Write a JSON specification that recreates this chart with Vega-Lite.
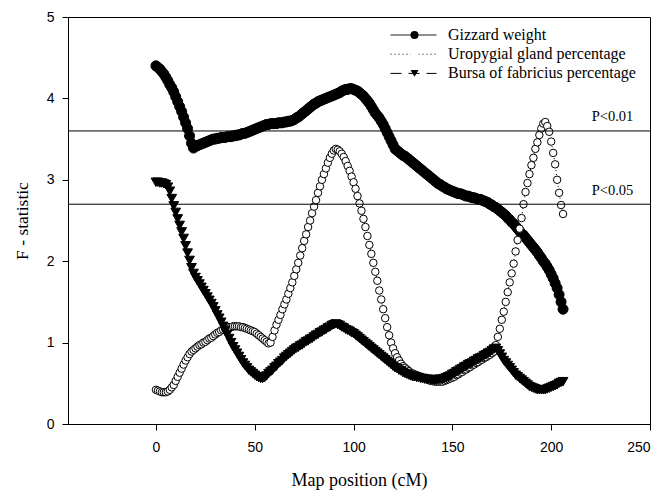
{
"$schema":"https://vega.github.io/schema/vega-lite/v6.json",
"width":582,"height":407,
"autosize":{"type":"none"},
"padding":{"left":68,"top":17,"right":12,"bottom":69},
"background":"white",
"config":{
 "view":{"stroke":"black","strokeWidth":1},
 "axis":{"grid":false,"domainColor":"black","tickColor":"black","tickSize":6,"labelFont":"Liberation Sans","labelFontSize":14,"labelColor":"black","titleFont":"Liberation Serif","titleFontWeight":"normal","titleColor":"black"}
},
"data":{"values":[
{"x":0,"g":4.40,"u":0.42,"b":2.97},{"x":1,"g":4.38,"u":0.41,"b":2.97},{"x":2,"g":4.36,"u":0.40,"b":2.96},{"x":3,"g":4.33,"u":0.39,"b":2.96},{"x":4,"g":4.30,"u":0.39,"b":2.95},
{"x":5,"g":4.26,"u":0.39,"b":2.94},{"x":6,"g":4.22,"u":0.40,"b":2.91},{"x":7,"g":4.17,"u":0.42,"b":2.86},{"x":8,"g":4.13,"u":0.45,"b":2.77},{"x":9,"g":4.08,"u":0.48,"b":2.68},
{"x":10,"g":4.02,"u":0.53,"b":2.60},{"x":11,"g":3.96,"u":0.58,"b":2.52},{"x":12,"g":3.90,"u":0.63,"b":2.44},{"x":13,"g":3.84,"u":0.68,"b":2.36},{"x":14,"g":3.77,"u":0.73,"b":2.28},
{"x":15,"g":3.70,"u":0.78,"b":2.19},{"x":16,"g":3.63,"u":0.82,"b":2.10},{"x":17,"g":3.54,"u":0.86,"b":2.01},{"x":18,"g":3.45,"u":0.89,"b":1.92},{"x":19,"g":3.39,"u":0.91,"b":1.85},
{"x":20,"g":3.41,"u":0.93,"b":1.80},{"x":21,"g":3.42,"u":0.95,"b":1.76},{"x":22,"g":3.43,"u":0.97,"b":1.72},{"x":23,"g":3.44,"u":0.98,"b":1.68},{"x":24,"g":3.45,"u":1.00,"b":1.64},
{"x":25,"g":3.46,"u":1.01,"b":1.60},{"x":26,"g":3.47,"u":1.03,"b":1.56},{"x":27,"g":3.48,"u":1.05,"b":1.52},{"x":28,"g":3.49,"u":1.06,"b":1.48},{"x":29,"g":3.50,"u":1.08,"b":1.44},
{"x":30,"g":3.50,"u":1.10,"b":1.39},{"x":31,"g":3.51,"u":1.12,"b":1.34},{"x":32,"g":3.51,"u":1.13,"b":1.30},{"x":33,"g":3.52,"u":1.15,"b":1.25},{"x":34,"g":3.52,"u":1.16,"b":1.20},
{"x":35,"g":3.52,"u":1.17,"b":1.15},{"x":36,"g":3.53,"u":1.18,"b":1.10},{"x":37,"g":3.53,"u":1.19,"b":1.05},{"x":38,"g":3.53,"u":1.19,"b":1.00},{"x":39,"g":3.54,"u":1.20,"b":0.95},
{"x":40,"g":3.54,"u":1.20,"b":0.91},{"x":41,"g":3.55,"u":1.20,"b":0.87},{"x":42,"g":3.55,"u":1.20,"b":0.83},{"x":43,"g":3.56,"u":1.19,"b":0.79},{"x":44,"g":3.57,"u":1.19,"b":0.75},
{"x":45,"g":3.57,"u":1.18,"b":0.72},{"x":46,"g":3.58,"u":1.17,"b":0.69},{"x":47,"g":3.59,"u":1.16,"b":0.66},{"x":48,"g":3.60,"u":1.15,"b":0.64},{"x":49,"g":3.61,"u":1.14,"b":0.62},
{"x":50,"g":3.62,"u":1.13,"b":0.60},{"x":51,"g":3.63,"u":1.11,"b":0.58},{"x":52,"g":3.64,"u":1.09,"b":0.57},{"x":53,"g":3.65,"u":1.07,"b":0.56},{"x":54,"g":3.66,"u":1.05,"b":0.56},
{"x":55,"g":3.67,"u":1.03,"b":0.57},{"x":56,"g":3.68,"u":1.01,"b":0.59},{"x":57,"g":3.68,"u":0.99,"b":0.62},{"x":58,"g":3.69,"u":1.00,"b":0.64},{"x":59,"g":3.69,"u":1.07,"b":0.66},
{"x":60,"g":3.69,"u":1.15,"b":0.69},{"x":61,"g":3.69,"u":1.22,"b":0.71},{"x":62,"g":3.70,"u":1.28,"b":0.74},{"x":63,"g":3.70,"u":1.34,"b":0.76},{"x":64,"g":3.70,"u":1.41,"b":0.78},
{"x":65,"g":3.71,"u":1.47,"b":0.81},{"x":66,"g":3.71,"u":1.53,"b":0.83},{"x":67,"g":3.72,"u":1.60,"b":0.85},{"x":68,"g":3.72,"u":1.67,"b":0.87},{"x":69,"g":3.73,"u":1.74,"b":0.89},
{"x":70,"g":3.74,"u":1.82,"b":0.91},{"x":71,"g":3.76,"u":1.90,"b":0.93},{"x":72,"g":3.77,"u":1.98,"b":0.94},{"x":73,"g":3.79,"u":2.07,"b":0.96},{"x":74,"g":3.81,"u":2.16,"b":0.97},
{"x":75,"g":3.83,"u":2.25,"b":0.99},{"x":76,"g":3.85,"u":2.33,"b":1.01},{"x":77,"g":3.87,"u":2.42,"b":1.02},{"x":78,"g":3.89,"u":2.50,"b":1.04},{"x":79,"g":3.91,"u":2.59,"b":1.05},
{"x":80,"g":3.93,"u":2.67,"b":1.07},{"x":81,"g":3.94,"u":2.75,"b":1.09},{"x":82,"g":3.96,"u":2.84,"b":1.10},{"x":83,"g":3.97,"u":2.92,"b":1.12},{"x":84,"g":3.98,"u":3.00,"b":1.13},
{"x":85,"g":3.99,"u":3.07,"b":1.15},{"x":86,"g":4.00,"u":3.14,"b":1.16},{"x":87,"g":4.01,"u":3.21,"b":1.18},{"x":88,"g":4.02,"u":3.27,"b":1.19},{"x":89,"g":4.03,"u":3.32,"b":1.21},
{"x":90,"g":4.04,"u":3.36,"b":1.22},{"x":91,"g":4.05,"u":3.38,"b":1.23},{"x":92,"g":4.06,"u":3.37,"b":1.22},{"x":93,"g":4.07,"u":3.35,"b":1.21},{"x":94,"g":4.09,"u":3.32,"b":1.19},
{"x":95,"g":4.10,"u":3.28,"b":1.18},{"x":96,"g":4.11,"u":3.23,"b":1.16},{"x":97,"g":4.11,"u":3.17,"b":1.15},{"x":98,"g":4.12,"u":3.11,"b":1.14},{"x":99,"g":4.12,"u":3.04,"b":1.12},
{"x":100,"g":4.11,"u":2.97,"b":1.11},{"x":101,"g":4.10,"u":2.89,"b":1.09},{"x":102,"g":4.09,"u":2.80,"b":1.07},{"x":103,"g":4.07,"u":2.71,"b":1.05},{"x":104,"g":4.05,"u":2.62,"b":1.03},
{"x":105,"g":4.03,"u":2.52,"b":1.01},{"x":106,"g":4.00,"u":2.42,"b":0.99},{"x":107,"g":3.97,"u":2.31,"b":0.97},{"x":108,"g":3.94,"u":2.20,"b":0.95},{"x":109,"g":3.90,"u":2.09,"b":0.93},
{"x":110,"g":3.86,"u":1.98,"b":0.91},{"x":111,"g":3.82,"u":1.87,"b":0.89},{"x":112,"g":3.79,"u":1.76,"b":0.87},{"x":113,"g":3.76,"u":1.64,"b":0.85},{"x":114,"g":3.72,"u":1.53,"b":0.83},
{"x":115,"g":3.68,"u":1.41,"b":0.81},{"x":116,"g":3.63,"u":1.30,"b":0.79},{"x":117,"g":3.58,"u":1.19,"b":0.77},{"x":118,"g":3.53,"u":1.09,"b":0.75},{"x":119,"g":3.48,"u":1.00,"b":0.73},
{"x":120,"g":3.43,"u":0.93,"b":0.71},{"x":121,"g":3.38,"u":0.87,"b":0.69},{"x":122,"g":3.36,"u":0.82,"b":0.68},{"x":123,"g":3.34,"u":0.78,"b":0.66},{"x":124,"g":3.32,"u":0.74,"b":0.65},
{"x":125,"g":3.30,"u":0.71,"b":0.63},{"x":126,"g":3.29,"u":0.69,"b":0.62},{"x":127,"g":3.27,"u":0.67,"b":0.61},{"x":128,"g":3.25,"u":0.65,"b":0.60},{"x":129,"g":3.23,"u":0.63,"b":0.59},
{"x":130,"g":3.21,"u":0.62,"b":0.58},{"x":131,"g":3.19,"u":0.61,"b":0.58},{"x":132,"g":3.17,"u":0.60,"b":0.57},{"x":133,"g":3.15,"u":0.59,"b":0.57},{"x":134,"g":3.13,"u":0.58,"b":0.56},
{"x":135,"g":3.11,"u":0.57,"b":0.56},{"x":136,"g":3.09,"u":0.56,"b":0.55},{"x":137,"g":3.07,"u":0.55,"b":0.55},{"x":138,"g":3.05,"u":0.54,"b":0.55},{"x":139,"g":3.03,"u":0.53,"b":0.54},
{"x":140,"g":3.01,"u":0.53,"b":0.54},{"x":141,"g":2.99,"u":0.52,"b":0.54},{"x":142,"g":2.97,"u":0.52,"b":0.54},{"x":143,"g":2.95,"u":0.52,"b":0.55},{"x":144,"g":2.94,"u":0.52,"b":0.55},
{"x":145,"g":2.92,"u":0.52,"b":0.55},{"x":146,"g":2.91,"u":0.53,"b":0.56},{"x":147,"g":2.89,"u":0.54,"b":0.57},{"x":148,"g":2.88,"u":0.55,"b":0.58},{"x":149,"g":2.87,"u":0.56,"b":0.59},
{"x":150,"g":2.86,"u":0.57,"b":0.61},{"x":151,"g":2.85,"u":0.58,"b":0.62},{"x":152,"g":2.84,"u":0.60,"b":0.64},{"x":153,"g":2.83,"u":0.61,"b":0.65},{"x":154,"g":2.83,"u":0.63,"b":0.67},
{"x":155,"g":2.82,"u":0.64,"b":0.68},{"x":156,"g":2.81,"u":0.66,"b":0.70},{"x":157,"g":2.80,"u":0.67,"b":0.71},{"x":158,"g":2.80,"u":0.69,"b":0.73},{"x":159,"g":2.79,"u":0.70,"b":0.74},
{"x":160,"g":2.78,"u":0.72,"b":0.75},{"x":161,"g":2.78,"u":0.73,"b":0.77},{"x":162,"g":2.77,"u":0.75,"b":0.78},{"x":163,"g":2.76,"u":0.76,"b":0.80},{"x":164,"g":2.76,"u":0.78,"b":0.81},
{"x":165,"g":2.75,"u":0.79,"b":0.82},{"x":166,"g":2.74,"u":0.81,"b":0.84},{"x":167,"g":2.73,"u":0.82,"b":0.85},{"x":168,"g":2.72,"u":0.84,"b":0.87},{"x":169,"g":2.70,"u":0.85,"b":0.88},
{"x":170,"g":2.69,"u":0.87,"b":0.90},{"x":171,"g":2.67,"u":0.89,"b":0.92},{"x":172,"g":2.66,"u":0.97,"b":0.93},{"x":173,"g":2.64,"u":1.07,"b":0.90},{"x":174,"g":2.62,"u":1.17,"b":0.86},
{"x":175,"g":2.60,"u":1.28,"b":0.82},{"x":176,"g":2.58,"u":1.38,"b":0.78},{"x":177,"g":2.56,"u":1.50,"b":0.75},{"x":178,"g":2.53,"u":1.62,"b":0.72},{"x":179,"g":2.51,"u":1.74,"b":0.69},
{"x":180,"g":2.48,"u":1.85,"b":0.66},{"x":181,"g":2.46,"u":1.97,"b":0.63},{"x":182,"g":2.43,"u":2.12,"b":0.60},{"x":183,"g":2.40,"u":2.26,"b":0.58},{"x":184,"g":2.37,"u":2.40,"b":0.56},
{"x":185,"g":2.34,"u":2.53,"b":0.54},{"x":186,"g":2.32,"u":2.70,"b":0.52},{"x":187,"g":2.29,"u":2.85,"b":0.50},{"x":188,"g":2.26,"u":2.96,"b":0.48},{"x":189,"g":2.23,"u":3.07,"b":0.46},
{"x":190,"g":2.20,"u":3.18,"b":0.45},{"x":191,"g":2.17,"u":3.27,"b":0.44},{"x":192,"g":2.14,"u":3.38,"b":0.43},{"x":193,"g":2.11,"u":3.46,"b":0.42},{"x":194,"g":2.07,"u":3.55,"b":0.42},
{"x":195,"g":2.04,"u":3.63,"b":0.42},{"x":196,"g":2.00,"u":3.69,"b":0.42},{"x":197,"g":1.97,"u":3.71,"b":0.42},{"x":198,"g":1.93,"u":3.66,"b":0.43},{"x":199,"g":1.89,"u":3.59,"b":0.44},
{"x":200,"g":1.84,"u":3.47,"b":0.45},{"x":201,"g":1.79,"u":3.33,"b":0.46},{"x":202,"g":1.73,"u":3.19,"b":0.47},{"x":203,"g":1.67,"u":3.00,"b":0.48},{"x":204,"g":1.59,"u":2.84,"b":0.50},
{"x":205,"g":1.50,"u":2.69,"b":0.51},{"x":206,"g":1.41,"u":2.58,"b":0.52}
]},
"layer":[
 {"transform":[{"fold":["g"],"as":["ln","F"]}],
  "mark":{"type":"line","color":"black","strokeWidth":1},
  "encoding":{"x":{"field":"x","type":"quantitative","scale":{"domain":[-44.5,250],"nice":false,"zero":false},"axis":{"values":[0,50,100,150,200,250],"format":"d","title":"Map position (cM)","titleFontSize":18,"labelPadding":10,"titleY":56,"titleBaseline":"middle"}},
   "y":{"field":"F","type":"quantitative","scale":{"domain":[0,5],"nice":false},"axis":{"values":[0,1,2,3,4,5],"format":"d","title":"F - statistic","titleFontSize":17.5,"labelPadding":8,"titleX":-46,"titleBaseline":"middle"}},
   "strokeDash":{"field":"ln","type":"nominal","scale":{"range":[[11,7],[1,0],[1,3]]},"legend":{"orient":"none","legendX":322,"legendY":10,"direction":"vertical","padding":0,"title":null,"values":["g","u","b"],"labelExpr":"datum.value=='g'?'Gizzard weight':datum.value=='u'?'Uropygial gland percentage':'Bursa of fabricius percentage'","labelLimit":0,"symbolType":"stroke","symbolSize":2116,"symbolStrokeWidth":1,"symbolStrokeColor":"black","labelFont":"Liberation Serif","labelFontSize":16,"labelColor":"black","labelOffset":11,"clipHeight":16,"rowPadding":3.2,"zindex":1}}}},
 {"transform":[{"fold":["u"],"as":["ln","F"]}],
  "mark":{"type":"line","color":"black","strokeWidth":1},
  "encoding":{"x":{"field":"x","type":"quantitative"},"y":{"field":"F","type":"quantitative"},"strokeDash":{"field":"ln","type":"nominal"}}},
 {"transform":[{"fold":["b"],"as":["ln","F"]}],
  "mark":{"type":"line","color":"black","strokeWidth":1},
  "encoding":{"x":{"field":"x","type":"quantitative"},"y":{"field":"F","type":"quantitative"},"strokeDash":{"field":"ln","type":"nominal"}}},
 {"transform":[{"fold":["g"],"as":["pt","F"]}],
  "mark":{"type":"point","filled":true,"stroke":"black","strokeWidth":1,"size":100,"opacity":1},
  "encoding":{"x":{"field":"x","type":"quantitative"},"y":{"field":"F","type":"quantitative"},
   "shape":{"field":"pt","type":"nominal","scale":{"range":["triangle-down","circle","circle"]},"legend":{"orient":"none","legendX":338.5,"legendY":10,"direction":"vertical","padding":0,"title":null,"values":["g","u","b"],"labelExpr":"''","symbolSize":64,"symbolStrokeWidth":1,"symbolStrokeColor":"black","labelFontSize":16,"clipHeight":16,"rowPadding":3.2,"zindex":2}},
   "fill":{"field":"pt","type":"nominal","scale":{"range":["black","black","white"]},"legend":{"orient":"none","legendX":338.5,"legendY":10,"direction":"vertical","padding":0,"title":null,"values":["g","u","b"],"labelExpr":"''","symbolSize":64,"symbolStrokeWidth":1,"symbolStrokeColor":"black","labelFontSize":16,"clipHeight":16,"rowPadding":3.2,"zindex":2}}}},
 {"transform":[{"fold":["u"],"as":["pt","F"]}],
  "mark":{"type":"point","filled":true,"stroke":"black","strokeWidth":1,"size":56,"opacity":1},
  "encoding":{"x":{"field":"x","type":"quantitative"},"y":{"field":"F","type":"quantitative"},"shape":{"field":"pt","type":"nominal"},"fill":{"field":"pt","type":"nominal"}}},
 {"transform":[{"fold":["b"],"as":["pt","F"]}],
  "mark":{"type":"point","filled":true,"stroke":"black","strokeWidth":1,"size":95,"opacity":1},
  "encoding":{"x":{"field":"x","type":"quantitative"},"y":{"field":"F","type":"quantitative"},"shape":{"field":"pt","type":"nominal"},"fill":{"field":"pt","type":"nominal"}}},
 {"data":{"values":[{"p":3.6,"lab":"P<0.01"},{"p":2.7,"lab":"P<0.05"}]},
  "mark":{"type":"rule","color":"black","strokeWidth":1},
  "encoding":{"y":{"field":"p","type":"quantitative"}}},
 {"data":{"values":[{"p":3.6,"lab":"P<0.01"},{"p":2.7,"lab":"P<0.05"}]},
  "mark":{"type":"text","align":"left","baseline":"alphabetic","dy":-9.5,"font":"Liberation Serif","fontSize":14.5,"color":"black"},
  "encoding":{"y":{"field":"p","type":"quantitative"},"x":{"datum":220.5},"text":{"field":"lab"}}}
]
}
